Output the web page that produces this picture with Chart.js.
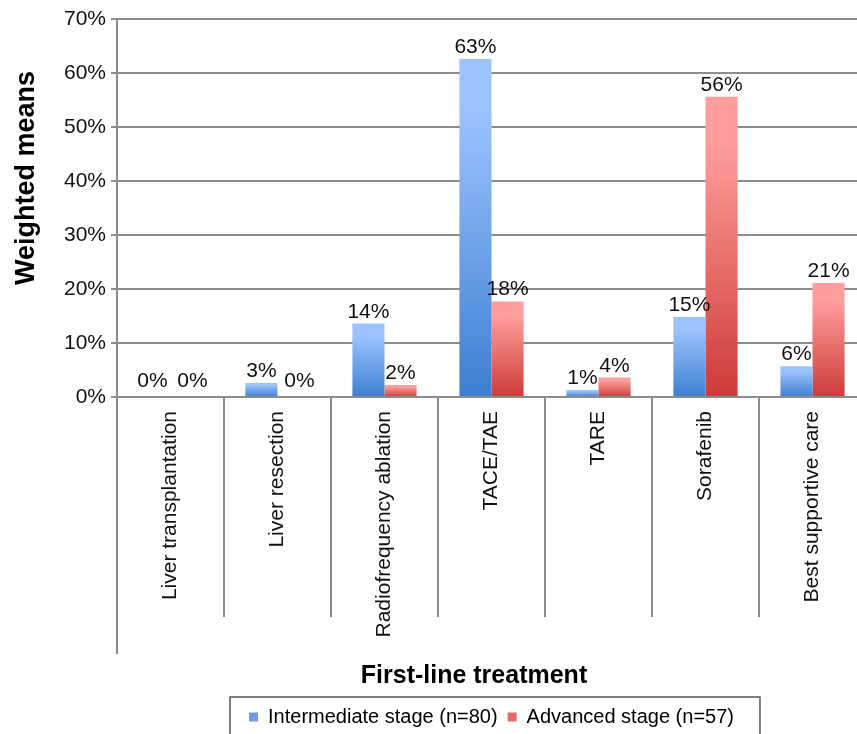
<!DOCTYPE html>
<html>
<head>
<meta charset="utf-8">
<script src="https://cdn.jsdelivr.net/npm/chart.js@4/dist/chart.umd.min.js"></script>
<style>
  body { margin: 0; background: #fff; overflow: hidden; }
  #wrap { position: relative; width: 870px; height: 737px; }
</style>
</head>
<body>
<div id="wrap"><canvas id="chart"></canvas></div>
<script>
// 카테고리 / 값 (그림에서 읽은 값, %)
var categories = ['Liver transplantation', 'Liver resection', 'Radiofrequency ablation', 'TACE/TAE', 'TARE', 'Sorafenib', 'Best supportive care'];
var intermediate = [0, 2.6, 13.6, 62.6, 1.3, 14.8, 5.7];
var advanced = [0, 0, 2.2, 17.7, 3.6, 55.6, 21.1];
var seriesNames = ['Intermediate stage (n=80)', 'Advanced stage (n=57)'];
var yTicks = [0, 10, 20, 30, 40, 50, 60, 70];
var yTitle = 'Weighted means';
var xTitle = 'First-line treatment';

var FONT = '"Liberation Sans", Arial, sans-serif';
var GRID = '#8c8c8c';

var blueTop = '#9dc3ff', blueBottom = '#3d7fd0';
var redTop = '#ff9e9c', redBottom = '#cd3b39';

// 막대마다 위->아래 그라데이션
function gradientFor(topColor, bottomColor) {
	return function(c) {
		var chart = c.chart;
		if (!chart.chartArea || c.type !== 'data') return bottomColor;
		var y = chart.scales.y;
		var top = y.getPixelForValue(c.raw);
		var bottom = y.getPixelForValue(0);
		if (bottom - top < 1) return bottomColor;
		var g = chart.ctx.createLinearGradient(0, top, 0, bottom);
		g.addColorStop(0, topColor);
		g.addColorStop(0.15, topColor);
		g.addColorStop(1, bottomColor);
		return g;
	};
}

// 막대 위 % 라벨
var valueLabels = {
	id: 'valueLabels',
	afterDatasetsDraw: function(chart) {
		var ctx = chart.ctx;
		ctx.save();
		ctx.font = '21px ' + FONT;
		ctx.fillStyle = '#111';
		ctx.textAlign = 'center';
		ctx.textBaseline = 'alphabetic';
		chart.data.datasets.forEach(function(ds, di) {
			var meta = chart.getDatasetMeta(di);
			meta.data.forEach(function(bar, i) {
				var v = ds.data[i];
				// 값이 0이면 엑셀처럼 조금 띄워서 표시
				var dx = v === 0 ? (di === 0 ? -2 : 6) : 0;
				var gap = v === 0 ? 10 : 6;
				ctx.fillText(Math.round(v) + '%', bar.x + dx, bar.y - gap);
			});
		});
		ctx.restore();
	}
};

// 축 제목, y축 아래 연장선, 범례 테두리
var extras = {
	id: 'extras',
	afterDraw: function(chart) {
		var ctx = chart.ctx;
		var area = chart.chartArea;
		ctx.save();
		ctx.strokeStyle = GRID;
		ctx.lineWidth = 2;
		ctx.beginPath();
		ctx.moveTo(area.left, area.bottom);
		ctx.lineTo(area.left, area.bottom + 257);
		ctx.stroke();

		// 축 제목
		ctx.fillStyle = '#000';
		ctx.font = 'bold 27px ' + FONT;
		ctx.textAlign = 'center';
		ctx.textBaseline = 'middle';
		ctx.save();
		ctx.translate(27, 178);
		ctx.rotate(-Math.PI / 2);
		ctx.fillText(yTitle, 0, 0);
		ctx.restore();

		ctx.font = 'bold 25px ' + FONT;
		ctx.textBaseline = 'alphabetic';
		ctx.fillText(xTitle, 474, 683);

		var lg = chart.legend;
		if (lg && lg.legendHitBoxes && lg.legendHitBoxes.length) {
			var l = Infinity, r = -Infinity;
			lg.legendHitBoxes.forEach(function(h) {
				l = Math.min(l, h.left);
				r = Math.max(r, h.left + h.width);
			});
			ctx.strokeStyle = '#555';
			ctx.lineWidth = 1.5;
			ctx.strokeRect(l - 19, lg.top, (r - l) + 45, lg.height + 20);
		}
		ctx.restore();
	}
};

new Chart(document.getElementById('chart'), {
	type: 'bar',
	data: {
		labels: categories,
		datasets: [
			{
				label: seriesNames[0],
				data: intermediate,
				backgroundColor: gradientFor(blueTop, blueBottom),
				legendColor: '#6a9de8'
			},
			{
				label: seriesNames[1],
				data: advanced,
				backgroundColor: gradientFor(redTop, redBottom),
				legendColor: '#e66a68'
			}
		]
	},
	options: {
		responsive: true,
		maintainAspectRatio: false,
		animation: false,
		layout: { padding: { top: 19, right: 4, left: 0, bottom: 0 } },
		datasets: { bar: { categoryPercentage: 0.6, barPercentage: 1.0 } },
		plugins: {
			tooltip: { enabled: false },
			legend: {
				position: 'bottom',
				fullSize: false,
				labels: {
					font: { family: FONT, size: 20 },
					color: '#111',
					boxWidth: 9,
					boxHeight: 9,
					padding: 10,
					generateLabels: function(chart) {
						return chart.data.datasets.map(function(ds, i) {
							return {
								text: ds.label,
								fillStyle: ds.legendColor,
								strokeStyle: ds.legendColor,
								lineWidth: 0,
								datasetIndex: i,
								hidden: false
							};
						});
					}
				}
			}
		},
		scales: {
			x: {
				afterFit: function(s) { s.height = 300; },
				grid: {
					offset: true,
					drawOnChartArea: false,
					drawTicks: true,
					tickLength: 220,
					color: GRID,
					lineWidth: 2
				},
				border: { color: GRID, width: 2 },
				ticks: {
					autoSkip: false,
					minRotation: 90,
					maxRotation: 90,
					padding: -206,
					color: '#111',
					font: { family: FONT, size: 21 }
				}
			},
			y: {
				min: 0,
				max: 70,
				afterFit: function(s) { s.width = 117; },
				afterBuildTicks: function(s) {
					s.ticks = yTicks.map(function(v) { return { value: v }; });
				},
				grid: {
					color: GRID,
					lineWidth: 2,
					tickLength: 6
				},
				border: { color: GRID, width: 2 },
				ticks: {
					padding: 5,
					color: '#111',
					font: { family: FONT, size: 21 },
					callback: function(v) { return v + '%'; }
				}
			}
		}
	},
	plugins: [valueLabels, extras]
});
</script>
</body>
</html>
